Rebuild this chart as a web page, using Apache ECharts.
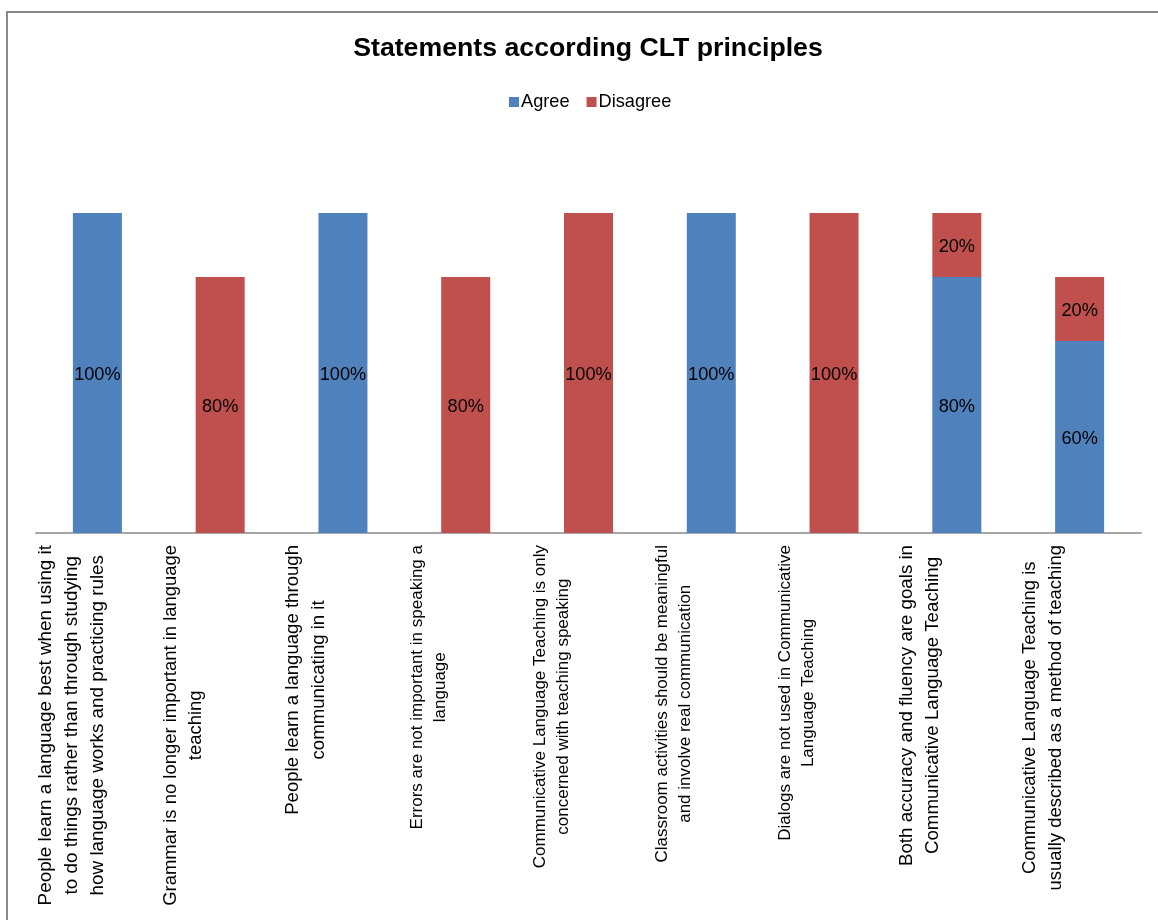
<!DOCTYPE html>
<html>
<head>
<meta charset="utf-8">
<script src="https://cdn.jsdelivr.net/npm/echarts@6/dist/echarts.min.js"></script>
<style>
  html, body { margin: 0; padding: 0; background: #fff; }
  #chart { width: 1158px; height: 920px; }
</style>
</head>
<body>
<div id="chart"></div>
<script>
const categories = [
  "People learn a language best when using it\nto do things rather than through studying\nhow language works and practicing rules",
  "Grammar is no longer important in language\nteaching",
  "People learn a language through\ncommunicating in it",
  "Errors are not important in speaking a\nlanguage",
  "Communicative Language Teaching is only\nconcerned with teaching speaking",
  "Classroom activities should be meaningful\nand involve real communication",
  "Dialogs are not used in Communicative\nLanguage Teaching",
  "Both accuracy and fluency are goals in\nCommunicative Language Teaching",
  "Communicative Language Teaching is\nusually described as a method of teaching"
];
const agree = [100, 0, 100, 0, 0, 100, 0, 80, 60];
const disagree = [0, 80, 0, 80, 100, 0, 100, 20, 20];
const seriesNames = ["Agree", "Disagree"];
const titleText = "Statements according CLT principles";

const FONT = "'Liberation Sans', Arial, Helvetica, sans-serif";

// visual tuning of the rotated category labels (font size per label, to match the reference widths)
const labelFontSizes = [18.85, 18.45, 18.6, 17, 17, 17, 17, 18.7, 18.5];

const chart = echarts.init(document.getElementById('chart'), null, { renderer: 'canvas' });

const catData = categories.map(function (c, i) {
  const lines = c.split('\n').length;
  return {
    value: c,
    textStyle: {
      fontSize: labelFontSizes[i],
      lineHeight: Math.round(labelFontSizes[i] * 1.38),
      padding: [0, 0, lines === 3 ? 52 : 74, 0]
    }
  };
});

function labelFmt(p) { return p.value ? p.value + '%' : ''; }

const barLabel = {
  show: true, position: 'inside', offset: [0, 2], formatter: labelFmt,
  fontFamily: FONT, fontSize: 18.2, color: '#000'
};

chart.setOption({
  animation: false,
  backgroundColor: '#ffffff',
  graphic: [{
    type: 'rect',
    shape: { x: 7, y: 12, width: 1400, height: 1200 },
    style: { fill: 'none', stroke: '#898989', lineWidth: 2 },
    silent: true,
    z: 100
  }],
  title: {
    text: titleText,
    left: 583,
    textAlign: 'center',
    top: 30,
    textStyle: { fontFamily: FONT, fontSize: 26.7, fontWeight: 'bold', color: '#000' }
  },
  legend: {
    data: seriesNames,
    left: 504,
    top: 88,
    icon: 'rect',
    itemWidth: 10,
    itemHeight: 10,
    itemGap: 17,
    textStyle: { fontFamily: FONT, fontSize: 18.2, color: '#000', padding: [0, 0, 0, -3] }
  },
  grid: { left: 36, right: 17, top: 213, bottom: 387, containLabel: false },
  xAxis: {
    type: 'category',
    data: catData,
    axisLine: { lineStyle: { color: '#a6a6a6', width: 2 } },
    axisTick: { show: false },
    axisLabel: {
      interval: 0,
      rotate: 90,
      margin: 12,
      fontFamily: FONT,
      fontSize: 17,
      lineHeight: 24,
      color: '#000',
      formatter: function (v) {
        return v.split('\n').map(function (l) { return '{c|' + l + '}'; }).join('\n');
      },
      rich: { c: { align: 'center' } }
    }
  },
  yAxis: {
    type: 'value',
    min: 0,
    max: 100,
    show: false,
    splitLine: { show: false }
  },
  series: [
    {
      name: seriesNames[0],
      type: 'bar',
      stack: 'total',
      data: agree,
      barWidth: 49,
      itemStyle: { color: '#4F81BD' },
      label: barLabel
    },
    {
      name: seriesNames[1],
      type: 'bar',
      stack: 'total',
      data: disagree,
      barWidth: 49,
      itemStyle: { color: '#C0504D' },
      label: barLabel
    }
  ]
});
</script>
</body>
</html>
